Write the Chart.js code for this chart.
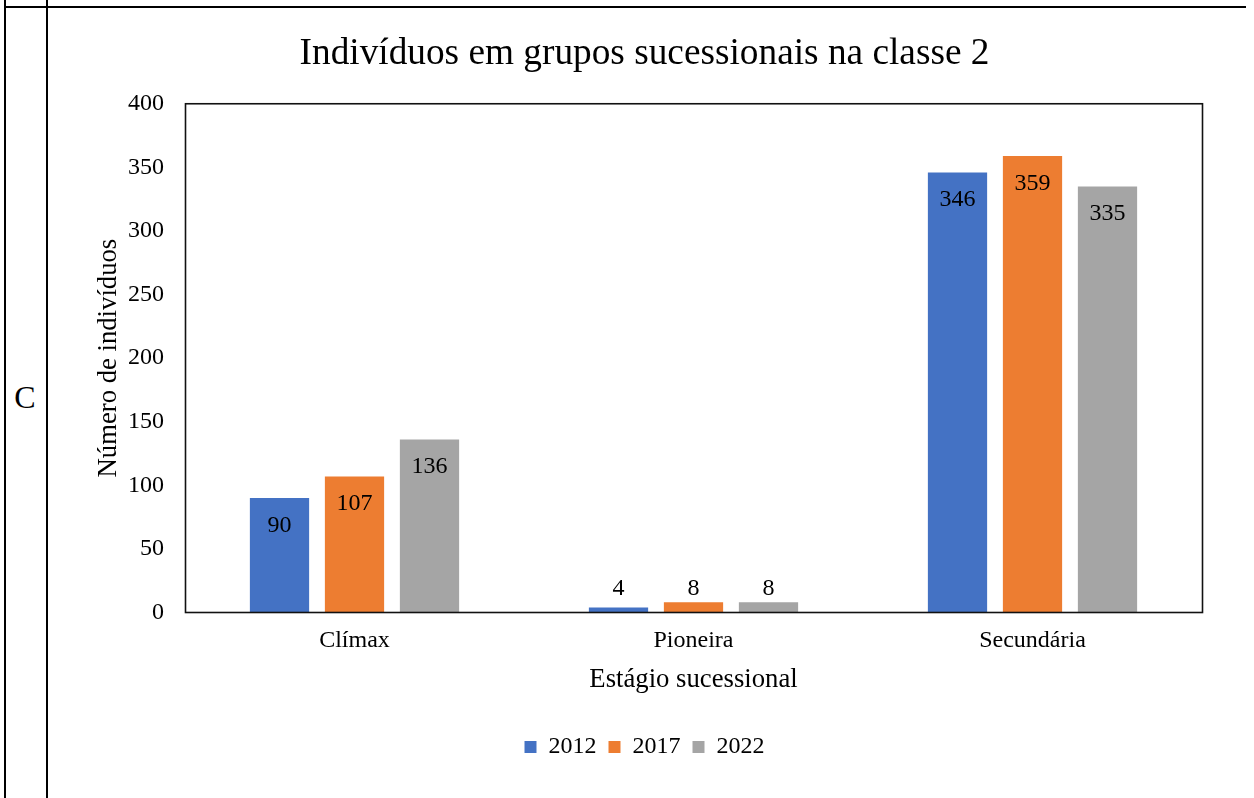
<!DOCTYPE html>
<html>
<head>
<meta charset="utf-8">
<script src="https://cdn.jsdelivr.net/npm/chart.js@4"></script>
<style>
  html, body { margin:0; padding:0; background:#fff; width:1254px; height:798px; overflow:hidden; }
  body { position:relative; font-family:"Liberation Serif", "Times New Roman", serif; }
  .vl { position:absolute; top:0; width:2px; height:798px; background:#000; }
  .hl { position:absolute; left:4px; top:6px; width:1242px; height:2px; background:#000; }
  #cellLabel { position:absolute; left:4px; width:42px; top:372px; height:50px; line-height:50px; text-align:center; font-size:32px; color:#000; }
  #wrap { position:absolute; left:47px; top:8px; width:1199px; height:790px; }
</style>
</head>
<body>
<div class="vl" style="left:4px"></div>
<div class="vl" style="left:46px"></div>
<div class="hl"></div>
<div id="cellLabel">C</div>
<div id="wrap"><canvas id="c"></canvas></div>
<script>
const categories = ['Clímax', 'Pioneira', 'Secundária'];
const seriesNames = ['2012', '2017', '2022'];
const values2012 = [90, 4, 346];
const values2017 = [107, 8, 359];
const values2022 = [136, 8, 335];
const seriesColors = ['#4472C4', '#ED7D31', '#A5A5A5'];
const yMin = 0, yMax = 400, yStep = 50;
const chartTitle = 'Indivíduos em grupos sucessionais na classe 2';
const xTitle = 'Estágio sucessional';
const yTitle = 'Número de indivíduos';

const FONT = '"Liberation Serif", "Times New Roman", serif';
const TXT = '#000';

const dataLabels = {
  id: 'dataLabels',
  afterDatasetsDraw(chart) {
    const ctx = chart.ctx;
    ctx.save();
    ctx.font = '24px ' + FONT;
    ctx.fillStyle = TXT;
    ctx.textAlign = 'center';
    ctx.textBaseline = 'middle';
    chart.data.datasets.forEach((ds, di) => {
      const meta = chart.getDatasetMeta(di);
      meta.data.forEach((el, i) => {
        const y = Math.min(el.y + 27.5, el.base - 24);
        ctx.fillText(String(ds.data[i]), el.x, y);
      });
    });
    const a = chart.chartArea;
    ctx.strokeStyle = '#111';
    ctx.lineWidth = 1.6;
    ctx.strokeRect(a.left + 0.5, a.top, a.right - a.left, a.bottom - a.top);
    ctx.restore();
  }
};

new Chart(document.getElementById('c'), {
  type: 'bar',
  data: {
    labels: categories,
    datasets: [
      { label: seriesNames[0], data: values2012, backgroundColor: seriesColors[0] },
      { label: seriesNames[1], data: values2017, backgroundColor: seriesColors[1] },
      { label: seriesNames[2], data: values2022, backgroundColor: seriesColors[2] }
    ]
  },
  options: {
    responsive: true,
    maintainAspectRatio: false,
    animation: false,
    datasets: { bar: { categoryPercentage: 0.6637, barPercentage: 0.79 } },
    layout: { padding: { left: 40, right: 44, top: 0, bottom: 29 } },
    plugins: {
      title: {
        display: true, text: chartTitle, color: TXT,
        font: { family: FONT, size: 37.3, weight: 'normal' },
        padding: { top: 24, bottom: 27 }
      },
      legend: {
        position: 'bottom',
        labels: {
          color: TXT, boxWidth: 12, boxHeight: 12, padding: 12,
          font: { family: FONT, size: 24 }
        }
      },
      tooltip: { enabled: false }
    },
    scales: {
      x: {
        grid: { display: false, drawTicks: false },
        border: { display: false },
        ticks: { color: TXT, padding: 14, font: { family: FONT, size: 24 } },
        title: { display: true, text: xTitle, color: TXT, font: { family: FONT, size: 26.7 }, padding: { top: 0, bottom: 27 } },
        afterFit(scale) { scale.height = 110.5; }
      },
      y: {
        min: yMin, max: yMax,
        grid: { display: false, drawTicks: false },
        border: { display: false },
        ticks: { stepSize: yStep, color: TXT, padding: 21, font: { family: FONT, size: 24 } },
        title: { display: true, text: yTitle, color: TXT, font: { family: FONT, size: 26.7 }, padding: { top: 6, bottom: 0 } },
        afterFit(scale) { scale.width = 98; }
      }
    }
  },
  plugins: [dataLabels]
});
</script>
</body>
</html>
